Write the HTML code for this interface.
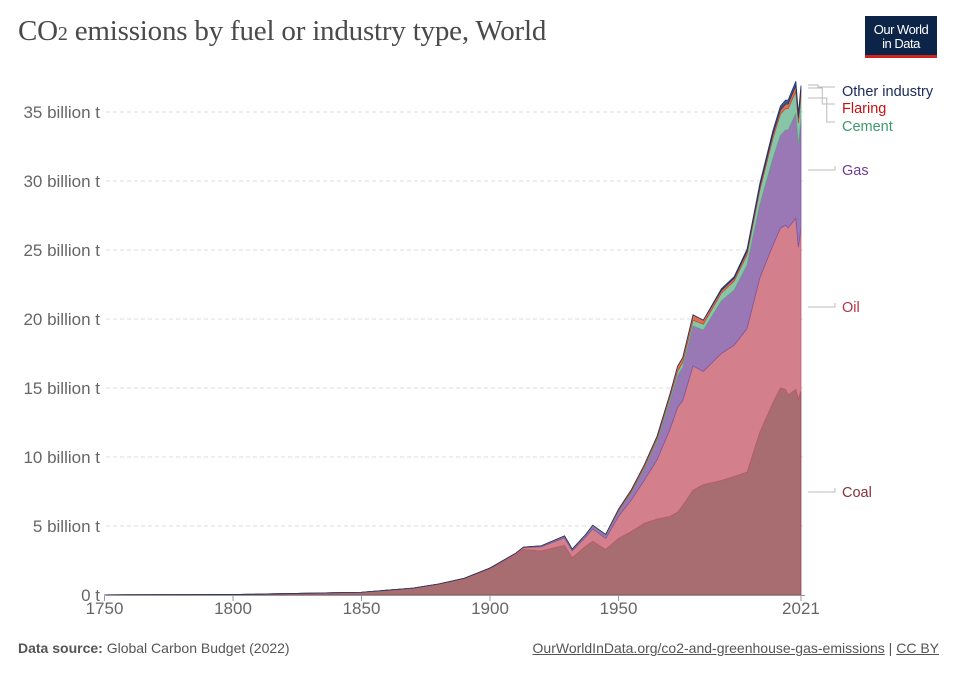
<!DOCTYPE html>
<html><head><meta charset="utf-8">
<style>
body{margin:0;background:#fff;width:956px;height:675px;overflow:hidden;font-family:"Liberation Sans",sans-serif;position:relative}
#title{position:absolute;left:18px;top:15px;font-family:"Liberation Serif",serif;font-size:29px;color:#4a4a4a;letter-spacing:-0.2px}
#title small{font-size:20px}
#logo{position:absolute;left:865px;top:16px;width:72px;height:42px;background:#0b2447;border-bottom:3px solid #ce261e;color:#fff;font-size:13px;line-height:14px;text-align:center;padding-top:7px;box-sizing:border-box;letter-spacing:-0.5px}
#foot-l{position:absolute;left:18px;top:640px;font-size:14px;color:#555}
#foot-r{position:absolute;right:17px;top:640px;font-size:14px;color:#555}
#foot-r span{text-decoration:underline}
svg{position:absolute;left:0;top:0}
</style></head><body>
<div id="title">CO<small>2</small> emissions by fuel or industry type, World</div>
<div id="logo">Our World<br>in Data</div>
<div id="foot-l"><b>Data source:</b> Global Carbon Budget (2022)</div>
<div id="foot-r"><span>OurWorldInData.org/co2-and-greenhouse-gas-emissions</span> | <span>CC BY</span></div>
<svg id="chart" width="956" height="675"></svg>
<script>
const years=[1750,1800,1850,1870,1880,1890,1900,1910,1913,1920,1929,1932,1937,1940,1945,1950,1955,1960,1965,1970,1973,1975,1979,1983,1990,1995,2000,2005,2010,2013,2015,2016,2019,2020,2021];
const coal=[.009,.03,.2,.5,.8,1.2,1.9,2.9,3.3,3.2,3.6,2.7,3.5,3.9,3.3,4.1,4.6,5.2,5.5,5.7,6.0,6.5,7.6,8.0,8.3,8.6,8.9,11.8,13.9,15.0,14.9,14.5,14.9,14.2,14.8];
const oil=[0,0,0,0,0,.01,.05,.1,.13,.3,.55,.5,.65,.9,.8,1.6,2.3,3.1,4.3,6.3,7.6,7.6,9.0,8.2,9.2,9.5,10.4,11.2,11.4,11.6,11.9,12.1,12.4,11.0,11.8];
const gas=[0,0,0,0,0,0,.01,.02,.03,.05,.1,.1,.15,.2,.25,.35,.5,.8,1.3,2.0,2.3,2.4,2.9,3.0,3.8,4.0,4.6,5.3,6.3,6.7,6.9,7.1,7.6,7.4,7.9];
const cement=[0,0,0,0,0,0,0,.01,.01,.02,.03,.03,.04,.05,.04,.07,.1,.15,.2,.3,.33,.35,.42,.43,.58,.65,.75,1.05,1.45,1.55,1.55,1.55,1.6,1.6,1.7];
const flaring=[0,0,0,0,0,0,0,0,0,0,0,0,0,0,0,.1,.13,.17,.2,.25,.35,.35,.38,.28,.2,.2,.25,.27,.3,.3,.32,.33,.42,.39,.41];
const other=[0,0,0,0,0,0,0,0,0,0,0,0,0,0,0,0,0,0,0,0,0,0,0,0,.1,.12,.15,.2,.25,.28,.29,.29,.31,.3,.31];
const yTicks=[0,5,10,15,20,25,30,35];
const xTicks=[1750,1800,1850,1900,1950,2021];
const NS="http://www.w3.org/2000/svg";
const svg=document.getElementById('chart');
const X=y=>104.5+(y-1750)*2.57;
const Y=v=>595-v*13.8;
function mk(t,a){const e=document.createElementNS(NS,t);for(const k in a)e.setAttribute(k,a[k]);svg.appendChild(e);return e;}
yTicks.forEach(t=>{
  if(t>0){const l=mk('line',{x1:106,x2:805,y1:Y(t),y2:Y(t),stroke:'#ddd','stroke-dasharray':'4,3'});
  
  }
  const tx=mk('text',{x:100,y:Y(t)+6,'text-anchor':'end','font-size':'17',fill:'#666'});
  tx.textContent=t===0?'0 t':t+' billion t';
  
  
});
const series=[
 {d:coal,fill:'#a86d71',stroke:'#8a4550',name:'coal-area'},
 {d:oil,fill:'#d4808c',stroke:'#c05a6e',name:'oil-area'},
 {d:gas,fill:'#9a78b6',stroke:'#7c56a0',name:'gas-area'},
 {d:cement,fill:'#88c4a8',stroke:'#5fa888',name:'cement-area'},
 {d:flaring,fill:'#e07050',stroke:'#c84a30',name:'flaring-area'},
 {d:other,fill:'#3f5b8a',stroke:'#1f3566',name:'other-industry-area'}];
let base=years.map(()=>0);
series.forEach(s=>{
  const top=base.map((b,i)=>b+s.d[i]);
  let p='M'+years.map((y,i)=>X(y)+','+Y(top[i])).join('L');
  for(let i=years.length-1;i>=0;i--)p+='L'+X(years[i])+','+Y(base[i]);
  p+='Z';
  const e=mk('path',{d:p,fill:s.fill,stroke:s.stroke,'stroke-width':0.8});
  
  
  base=top;
});
mk('line',{x1:106,x2:805,y1:595.5,y2:595.5,stroke:'#999'});
xTicks.forEach(t=>{
  mk('line',{x1:X(t),x2:X(t),y1:596,y2:601,stroke:'#999'});
  const tx=mk('text',{x:X(t),y:614,'text-anchor':'middle','font-size':'17',fill:'#666'});
  tx.textContent=t;
  
  
});
const labels=[['Other industry',91,'#1a2a5a',85],['Flaring',108,'#c81010',88],['Cement',126,'#3a9a6f',98],['Gas',170,'#6d3e91',170],['Oil',307,'#b8304a',307],['Coal',492,'#883039',492]];
labels.forEach(l=>{
  mk('path',{d:`M808,${l[3]}H${l[3]===l[1]?835:818+(l[1]-91)/4}V${l[1]-4}H835`,fill:'none',stroke:'#bbb'});
  const tx=mk('text',{x:842,y:l[1]+5,'font-size':'14.5',fill:l[2]});
  tx.textContent=l[0];
  
  
});
</script>
</body></html>
